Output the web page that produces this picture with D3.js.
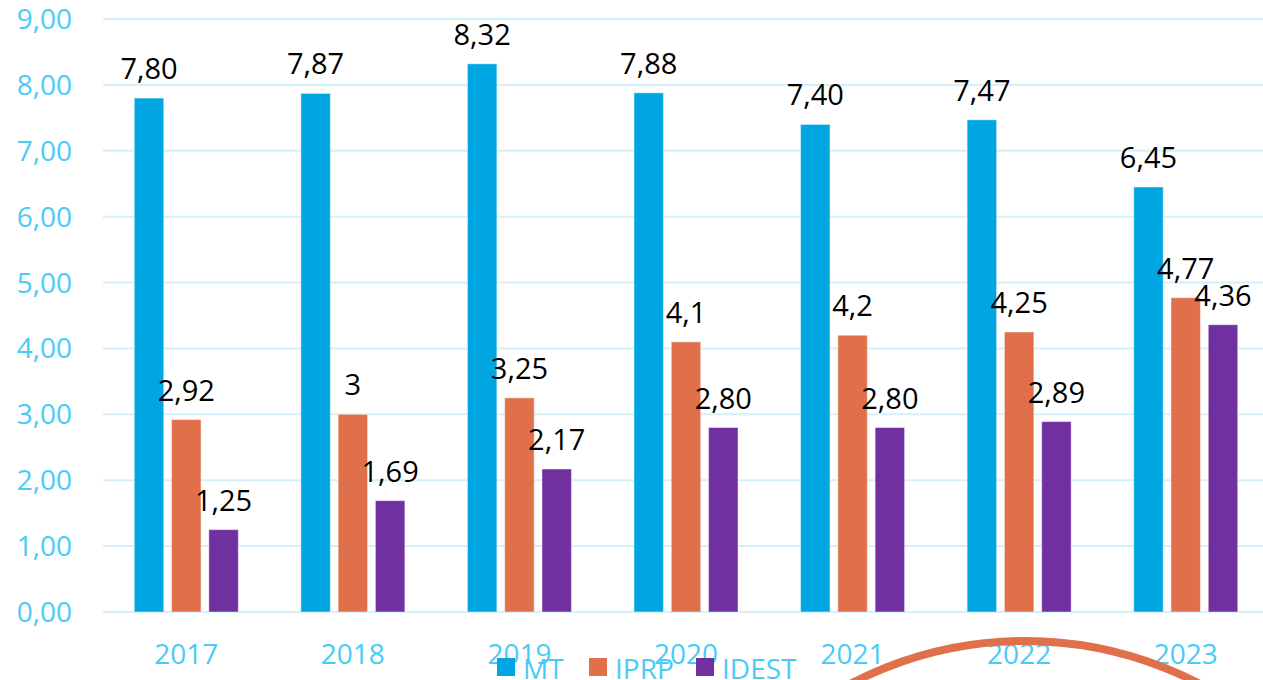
<!DOCTYPE html>
<html>
<head>
<meta charset="utf-8">
<script src="https://cdn.jsdelivr.net/npm/d3@7"></script>
<style>
  body { margin: 0; background: #fff; }
  svg { display: block; font-family: "Open Sans", sans-serif; }
</style>
</head>
<body>
<svg id="chart" width="1263" height="680"></svg>
<script>

// Data
var years = ['2017', '2018', '2019', '2020', '2021', '2022', '2023'];
var series = ['MT', 'IPRP', 'IDEST'];
var mtValues = [7.80, 7.87, 8.32, 7.88, 7.40, 7.47, 6.45];
var iprpValues = [2.92, 3, 3.25, 4.1, 4.2, 4.25, 4.77];
var idestValues = [1.25, 1.69, 2.17, 2.80, 2.80, 2.89, 4.36];
var iprpLabels = ['2,92', '3', '3,25', '4,1', '4,2', '4,25', '4,77'];
var yTicks = [0, 1, 2, 3, 4, 5, 6, 7, 8, 9];

var colors = {MT: '#00A6E2', IPRP: '#E0704A', IDEST: '#7030A0'};
var axisColor = '#4CCAF6';

var vars = {
  width: 1263,
  height: 680,
  left: 103,
  right: 1269,
  top: 19,
  bottom: 612
};

var svg = d3.select('#chart');

var x0 = d3.scaleBand()
    .domain(years)
    .range([vars.left, vars.right]);

var x1 = d3.scaleBand()
    .domain(series)
    .range([x0.bandwidth() / 2 - 52, x0.bandwidth() / 2 + 52])
    .paddingInner(0.21);

var y = d3.scaleLinear()
    .domain([0, 9])
    .range([vars.bottom, vars.top]);

function fmt(v) {
  return d3.format('.2f')(v).replace('.', ',');
}

var rows = years.map(function(yr, i) {
  return [
    {year: yr, key: 'MT', value: mtValues[i], label: fmt(mtValues[i])},
    {year: yr, key: 'IPRP', value: iprpValues[i], label: iprpLabels[i]},
    {year: yr, key: 'IDEST', value: idestValues[i], label: fmt(idestValues[i])}
  ];
});

// Gridlines
svg.append('g').selectAll('line').data(yTicks)
  .enter()
    .append('line')
    .attr('x1', vars.left)
    .attr('x2', vars.width)
    .attr('y1', function(d) { return y(d); })
    .attr('y2', function(d) { return y(d); })
    .attr('stroke', '#D4F0FB')
    .attr('stroke-width', 2);

// Y tick labels
svg.append('g').selectAll('text').data(yTicks)
  .enter()
    .append('text')
    .attr('x', 72)
    .attr('y', function(d) { return y(d) + 10; })
    .attr('text-anchor', 'end')
    .attr('font-size', 28)
    .attr('fill', axisColor)
    .text(function(d) { return fmt(d); });

// Groups
var groups = svg.append('g').selectAll('g').data(rows)
  .enter()
    .append('g')
    .attr('transform', function(d) { return 'translate(' + x0(d[0].year) + ',0)'; });

groups.selectAll('rect').data(function(d) { return d; })
  .enter()
    .append('rect')
    .attr('x', function(d) { return x1(d.key); })
    .attr('width', x1.bandwidth())
    .attr('y', function(d) { return y(d.value); })
    .attr('height', function(d) { return y(0) - y(d.value); })
    .attr('fill', function(d) { return colors[d.key]; })
    .attr('stroke', 'rgba(255,255,255,0.45)')
    .attr('stroke-width', 1);

groups.selectAll('text').data(function(d) { return d; })
  .enter()
    .append('text')
    .attr('x', function(d) { return x1(d.key) + x1.bandwidth() / 2; })
    .attr('y', function(d) { return y(d.value) - 19; })
    .attr('text-anchor', 'middle')
    .attr('font-size', 29)
    .attr('fill', '#000')
    .text(function(d) { return d.label; });

// X labels
svg.append('g').selectAll('text').data(years)
  .enter()
    .append('text')
    .attr('x', function(d) { return x0(d) + x0.bandwidth() / 2; })
    .attr('y', 664)
    .attr('text-anchor', 'middle')
    .attr('font-size', 28)
    .attr('fill', axisColor)
    .text(function(d) { return d; });

// Legend
var legendX = [497, 589, 696];
var legend = svg.append('g').selectAll('g').data(series)
  .enter()
    .append('g')
    .attr('transform', function(d, i) { return 'translate(' + legendX[i] + ',658)'; });

legend.append('rect')
    .attr('width', 18)
    .attr('height', 18)
    .attr('fill', function(d) { return colors[d]; });

legend.append('text')
    .attr('x', 26)
    .attr('y', 21)
    .attr('font-size', 28)
    .attr('fill', axisColor)
    .text(function(d) { return d; });

// Annotation arc
svg.append('circle')
    .attr('cx', 1025)
    .attr('cy', 641 + 377)
    .attr('r', 377)
    .attr('fill', 'none')
    .attr('stroke', '#E0704A')
    .attr('stroke-width', 8);

</script>
</body>
</html>
